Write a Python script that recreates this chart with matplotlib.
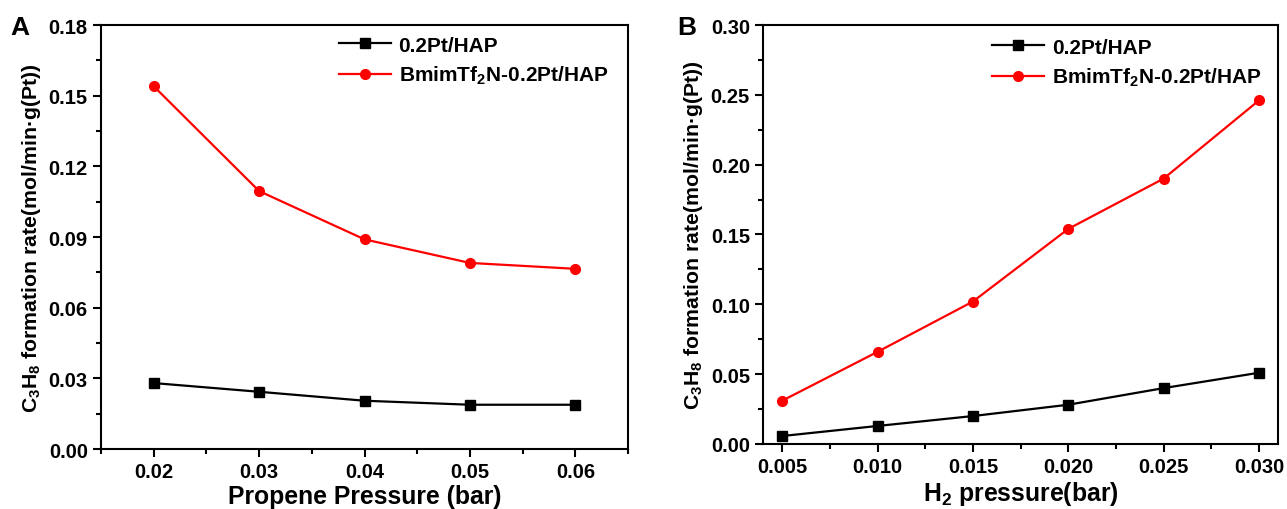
import matplotlib
matplotlib.use("Agg")
import matplotlib.pyplot as plt
from matplotlib.ticker import MultipleLocator

# =========================
# DATA
# =========================
propene_p = [0.02, 0.03, 0.04, 0.05, 0.06]
a_pt_hap = [0.0280, 0.0243, 0.0205, 0.0188, 0.0188]
a_il_pt_hap = [0.154, 0.1095, 0.089, 0.079, 0.0765]

h2_p = [0.005, 0.010, 0.015, 0.020, 0.025, 0.030]
b_pt_hap = [0.0057, 0.0129, 0.0200, 0.0281, 0.0400, 0.0510]
b_il_pt_hap = [0.031, 0.066, 0.102, 0.154, 0.190, 0.246]

labels = ["0.2Pt/HAP", "BmimTf$_2$N-0.2Pt/HAP"]
ylab = "C$_3$H$_8$ formation rate(mol/min\u00b7g(Pt))"

# =========================
# STYLE
# =========================
plt.rcParams["font.family"] = ["Liberation Sans", "DejaVu Sans"]
plt.rcParams["font.weight"] = "bold"
plt.rcParams["mathtext.fontset"] = "custom"
plt.rcParams["mathtext.rm"] = "Liberation Sans:bold"
plt.rcParams["mathtext.it"] = "Liberation Sans:bold"
plt.rcParams["mathtext.bf"] = "Liberation Sans:bold"
plt.rcParams["axes.linewidth"] = 1.5

fig = plt.figure(figsize=(12.87, 5.1), dpi=100)
axA = fig.add_axes([0.0785, 0.1176, 0.4095, 0.8314])
axB = fig.add_axes([0.593, 0.1275, 0.400, 0.8215])


def style(ax):
    ax.tick_params(which="both", direction="out", top=False, right=False,
                   labelsize=14.5, width=1.5)
    ax.tick_params(which="major", length=6)
    ax.tick_params(which="minor", length=3.5)
    for lab in ax.get_xticklabels() + ax.get_yticklabels():
        lab.set_fontweight("bold")


# =========================
# PANEL A
# =========================
axA.plot(propene_p, a_pt_hap, color="black", marker="s", ms=7, lw=1.6, label=labels[0])
axA.plot(propene_p, a_il_pt_hap, color="red", marker="o", ms=7, lw=1.6, label=labels[1])
axA.set_xlim(0.015, 0.065)
axA.set_ylim(0, 0.18)
axA.xaxis.set_major_locator(MultipleLocator(0.01))
axA.xaxis.set_minor_locator(MultipleLocator(0.005))
axA.yaxis.set_major_locator(MultipleLocator(0.03))
axA.yaxis.set_minor_locator(MultipleLocator(0.015))
axA.xaxis.set_major_formatter(plt.FormatStrFormatter("%.2f"))
axA.yaxis.set_major_formatter(plt.FormatStrFormatter("%.2f"))
axA.set_xlabel("Propene Pressure (bar)", fontsize=17.8, fontweight="bold", labelpad=2)
axA.set_ylabel(ylab, fontsize=15.3, fontweight="bold", labelpad=4)
style(axA)
axA.legend(loc="upper left", bbox_to_anchor=(0.452, 0.975), frameon=False,
           fontsize=15, borderaxespad=0, borderpad=0, handlelength=2.5,
           handletextpad=0.35, labelspacing=0.45)
fig.text(0.008, 0.945, "A", fontsize=19, fontweight="bold", va="center")

# =========================
# PANEL B
# =========================
axB.plot(h2_p, b_pt_hap, color="black", marker="s", ms=7, lw=1.6, label=labels[0])
axB.plot(h2_p, b_il_pt_hap, color="red", marker="o", ms=7, lw=1.6, label=labels[1])
axB.set_xlim(0.004, 0.031)
axB.set_ylim(0, 0.30)
axB.xaxis.set_major_locator(MultipleLocator(0.005))
axB.xaxis.set_minor_locator(MultipleLocator(0.0025))
axB.yaxis.set_major_locator(MultipleLocator(0.05))
axB.yaxis.set_minor_locator(MultipleLocator(0.025))
axB.xaxis.set_major_formatter(plt.FormatStrFormatter("%.3f"))
axB.yaxis.set_major_formatter(plt.FormatStrFormatter("%.2f"))
axB.set_xlabel("H$_2$ pressure(bar)", fontsize=17.8, fontweight="bold", labelpad=2)
axB.set_ylabel(ylab, fontsize=15.3, fontweight="bold", labelpad=4)
style(axB)
axB.legend(loc="upper left", bbox_to_anchor=(0.445, 0.97), frameon=False,
           fontsize=15, borderaxespad=0, borderpad=0, handlelength=2.5,
           handletextpad=0.35, labelspacing=0.45)
fig.text(0.526, 0.945, "B", fontsize=19, fontweight="bold", va="center")

fig.savefig("out.png", dpi=100)
plt.close(fig)
